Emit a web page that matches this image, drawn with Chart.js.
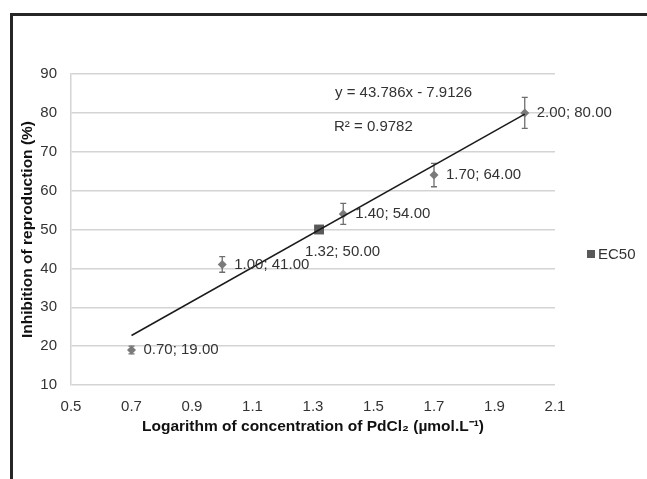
<!DOCTYPE html>
<html><head><meta charset="utf-8">
<script src="https://cdn.jsdelivr.net/npm/chart.js@4.4.1/dist/chart.umd.min.js"></script>
<style>
html,body{margin:0;padding:0;background:#fff;}
#wrap{position:relative;width:647px;height:479px;overflow:hidden;}
#frame{position:absolute;left:10px;top:13px;right:-5px;bottom:-5px;border-top:3px solid #262626;border-left:3px solid #262626;pointer-events:none;}
canvas{position:absolute;left:0;top:0;}
</style></head><body>
<div id="wrap"><canvas id="c" width="647" height="479"></canvas><div id="frame"></div></div>
<script>
// ---- data ----
const logConc    = [0.70, 1.00, 1.40, 1.70, 2.00];
const inhibition = [19.00, 41.00, 54.00, 64.00, 80.00];
const errorBars  = [1.0, 2.0, 2.7, 3.0, 4.0];
const ec50X      = [1.32];
const ec50Y      = [50.00];
const trendX     = [0.70, 2.00];
const trendY     = [22.74, 79.66];
const xTicks     = [0.5, 0.7, 0.9, 1.1, 1.3, 1.5, 1.7, 1.9, 2.1];
const yTicks     = [10, 20, 30, 40, 50, 60, 70, 80, 90];
const equationText = 'y = 43.786x - 7.9126';
const r2Text       = 'R² = 0.9782';
const legendLabel  = 'EC50';
const xTitle = 'Logarithm of concentration of PdCl₂ (µmol.L⁻¹)';
const yTitle = 'Inhibition of reproduction (%)';

const FONT = "'Liberation Sans', Arial, sans-serif";
const TXT = '#333333';

const toXY = (xs, ys) => xs.map((x, i) => ({x: x, y: ys[i]}));

const overlay = {
  id: 'overlay',
  beforeDatasetsDraw(chart) {
    const ctx = chart.ctx, xs = chart.scales.x, ys = chart.scales.y;
    ctx.save();
    ctx.strokeStyle = '#6e6e6e';
    ctx.lineWidth = 1.3;
    logConc.forEach((x, i) => {
      const px = xs.getPixelForValue(x);
      const top = ys.getPixelForValue(inhibition[i] + errorBars[i]);
      const bot = ys.getPixelForValue(inhibition[i] - errorBars[i]);
      ctx.beginPath();
      ctx.moveTo(px, top); ctx.lineTo(px, bot);
      ctx.moveTo(px - 3, top); ctx.lineTo(px + 3, top);
      ctx.moveTo(px - 3, bot); ctx.lineTo(px + 3, bot);
      ctx.stroke();
    });
    ctx.restore();
  },
  afterDatasetsDraw(chart) {
    const ctx = chart.ctx, xs = chart.scales.x, ys = chart.scales.y, ca = chart.chartArea;
    ctx.save();
    ctx.font = '15px ' + FONT;
    ctx.fillStyle = TXT;
    ctx.textBaseline = 'middle';
    ctx.textAlign = 'left';
    logConc.forEach((x, i) => {
      const px = xs.getPixelForValue(x), py = ys.getPixelForValue(inhibition[i]);
      ctx.fillText(x.toFixed(2) + '; ' + inhibition[i].toFixed(2), px + 12, py);
    });
    ec50X.forEach((x, i) => {
      const px = xs.getPixelForValue(x), py = ys.getPixelForValue(ec50Y[i]);
      ctx.fillText(x.toFixed(2) + '; ' + ec50Y[i].toFixed(2), px - 14, py + 22);
    });
    ctx.fillText(equationText, ca.left + 264, ca.top + 19);
    ctx.fillText(r2Text, ca.left + 263, ca.top + 53);
    // legend
    const lx = ca.right + 32, ly = 254;
    ctx.fillStyle = '#595959';
    ctx.fillRect(lx, ly - 4, 8, 8);
    ctx.fillStyle = TXT;
    ctx.fillText(legendLabel, lx + 11, ly + 1);
    ctx.restore();
  }
};

new Chart(document.getElementById('c'), {
  type: 'scatter',
  data: {
    datasets: [
      {
        label: 'data',
        data: toXY(logConc, inhibition),
        pointStyle: 'rectRot',
        pointRadius: 4.5,
        backgroundColor: '#7a7a7a',
        borderColor: '#7a7a7a',
        borderWidth: 0,
        order: 3
      },
      {
        label: legendLabel,
        data: toXY(ec50X, ec50Y),
        pointStyle: 'rect',
        pointRadius: 7,
        backgroundColor: '#595959',
        borderColor: '#595959',
        borderWidth: 0,
        order: 2
      },
      {
        type: 'line',
        label: 'trend',
        data: toXY(trendX, trendY),
        borderColor: '#1a1a1a',
        borderWidth: 1.5,
        pointRadius: 0,
        fill: false,
        order: 1
      }
    ]
  },
  options: {
    responsive: false,
    animation: false,
    devicePixelRatio: 1,
    layout: {padding: {left: 12, top: 74, right: 92, bottom: 43}},
    plugins: {legend: {display: false}, tooltip: {enabled: false}},
    scales: {
      x: {
        type: 'linear',
        min: 0.5, max: 2.1,
        afterBuildTicks: s => { s.ticks = xTicks.map(v => ({value: v})); },
        afterFit: s => { s.height = 51; },
        grid: {display: false, drawTicks: false},
        border: {display: false},
        ticks: {padding: 13, color: TXT, font: {family: FONT, size: 15}, callback: v => v.toFixed(1), maxRotation: 0},
        title: {display: true, text: xTitle, color: '#111', font: {family: FONT, size: 15.5, weight: 'bold'}, padding: {top: 0, bottom: 0}}
      },
      y: {
        min: 10, max: 90,
        afterBuildTicks: s => { s.ticks = yTicks.map(v => ({value: v})); },
        afterFit: s => { s.width = 59; },
        grid: {color: '#d4d4d4', lineWidth: 1.5, drawTicks: false},
        border: {display: true, color: '#d4d4d4', width: 1.5},
        ticks: {padding: 14, color: TXT, font: {family: FONT, size: 15}},
        title: {display: true, text: yTitle, color: '#111', font: {family: FONT, size: 15.5, weight: 'bold'}, padding: {top: 6, bottom: 0}}
      }
    }
  },
  plugins: [overlay]
});
</script>
</body></html>
